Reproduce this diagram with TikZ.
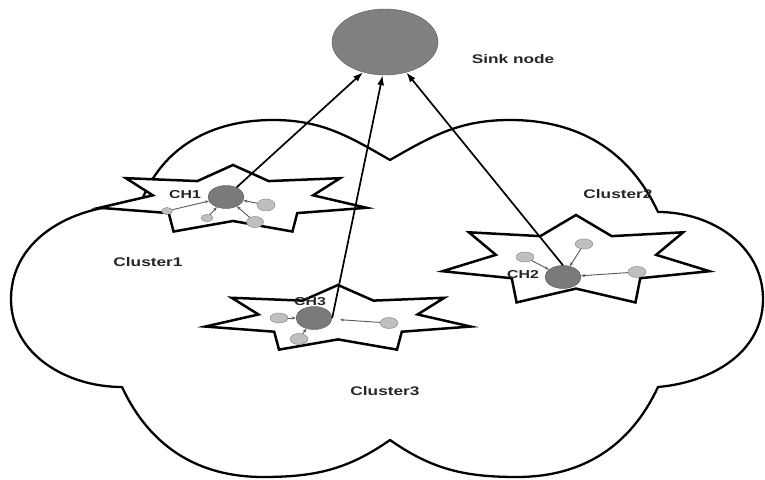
\documentclass[tikz,border=0pt]{standalone}
\usepackage{fontspec}
\setsansfont{Liberation Sans}
\usepackage{graphicx}
\usepackage{tikz}
\usetikzlibrary{shapes.geometric,arrows.meta}

% wide bold labels
\newcommand{\wtext}[1]{\scalebox{1.38}[1]{#1}}
% 7-point cluster star: cx, cy, rx, ry
\newcommand{\clusterstar}[4]{%
  \filldraw[starline] plot[samples at={0,...,13}]
    ({#1+#3*(0.80+0.20*cos(\x*180))*cos(90+\x*180/7)},
     {#2+#4*(0.80+0.20*cos(\x*180))*sin(90+\x*180/7)}) -- cycle;}

\begin{document}
\begin{tikzpicture}[x=1pt,y=1pt,
  cloudline/.style={line width=2.3pt,line join=round},
  starline/.style={line width=2.5pt,draw=black,fill=white},
  head/.style={ellipse,draw=black!65,fill=black!52,minimum width=36pt,minimum height=23pt,inner sep=0pt},
  sensor/.style={ellipse,draw=black!50,fill=black!25,minimum width=18pt,minimum height=11pt,inner sep=0pt},
  uplink/.style={line width=1.7pt,-{Latex[length=10pt,width=7pt]}},
  feed/.style={draw=black!65,line width=0.9pt,-{Stealth[length=4pt,width=3pt]}},
  lbl/.style={font=\sffamily\bfseries\fontsize{12.5}{14}\selectfont,text=black!85,inner sep=0pt}]
\useasboundingbox (0,0) rectangle (765,479);

% cloud
\draw[cloudline] (140,274) to[out=178,in=90] (11,180) to[out=270,in=180] (122,92)
  to[out=-65,in=180] (263,2) to[out=0,in=215] (390,39)
  to[out=-35,in=180] (517,2) to[out=0,in=245] (658,92)
  to[out=5,in=270] (763,180) to[out=90,in=0] (658,267)
  to[out=115,in=0] (510,359) to[out=180,in=30] (390,319)
  to[out=150,in=0] (273,359) to[out=180,in=70] (140,274);

% clusters
\clusterstar{233}{279}{137}{35}
\clusterstar{576}{218}{137}{46}
\clusterstar{338}{160}{136}{34}

% sink
\node[ellipse,draw=black!65,fill=black!50,minimum width=106pt,minimum height=66pt] (sink) at (385,437) {};

% cluster heads
\node[head] (ch1) at (226,282) {};
\node[head] (ch2) at (563,202) {};
\node[head] (ch3) at (314,161) {};

% member nodes
\node[sensor,minimum width=11pt,minimum height=7pt] (m11) at (167,268) {};
\node[sensor,minimum width=12pt,minimum height=7pt] (m12) at (207,261) {};
\node[sensor,minimum width=17pt] (m13) at (255,257) {};
\node[sensor,minimum height=12pt] (m14) at (266,274) {};
\node[sensor,minimum height=10pt] (m21) at (525,222) {};
\node[sensor,minimum height=10pt] (m22) at (584,235) {};
\node[sensor] (m23) at (637,207) {};
\node[sensor,minimum height=10pt] (m31) at (279,161) {};
\node[sensor] (m32) at (299,140) {};
\node[sensor] (m33) at (389,156) {};

\draw[feed] (m11) -- (ch1);
\draw[feed] (m12) -- (ch1);
\draw[feed] (m13) -- (ch1);
\draw[feed] (m14) -- (ch1);
\draw[feed] (m21) -- (ch2);
\draw[feed] (m22) -- (ch2);
\draw[feed] (m23) -- (ch2);
\draw[feed] (m31) -- (ch3);
\draw[feed] (m32) -- (ch3);
\draw[feed,shorten >=8pt] (m33) -- (ch3);

% links to sink
\draw[uplink] (ch1) -- (sink.234);
\draw[uplink] (ch3.east) -- (sink.266);
\draw[uplink] (ch2.north) -- (sink.305);

% labels
\node[lbl] (sinklbl) at (513,420) {\wtext{Sink node}};
\node[lbl,font=\sffamily\bfseries\fontsize{11.5}{13}\selectfont] (ch1lbl) at (185,284) {\wtext{CH1}};
\node[lbl,font=\sffamily\bfseries\fontsize{11.5}{13}\selectfont] (ch2lbl) at (523,204) {\wtext{CH2}};
\node[lbl,font=\sffamily\bfseries\fontsize{11.5}{13}\selectfont] (ch3lbl) at (310,177) {\wtext{CH3}};
\node[lbl] (c1lbl) at (148,217) {\wtext{Cluster1}};
\node[lbl] (c2lbl) at (618,285) {\wtext{Cluster2}};
\node[lbl] (c3lbl) at (385,88) {\wtext{Cluster3}};
\end{tikzpicture}
\end{document}
